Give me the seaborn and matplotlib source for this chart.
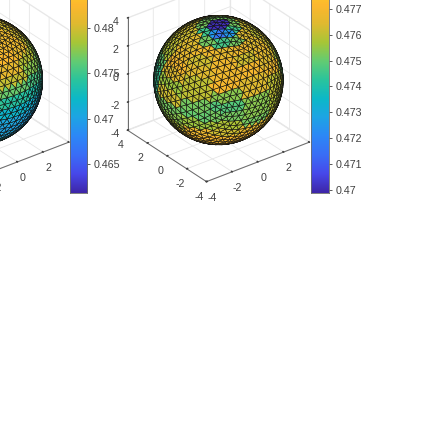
import numpy as np
import matplotlib
matplotlib.use('Agg')
import matplotlib.pyplot as plt
import seaborn as sns
from mpl_toolkits.mplot3d.art3d import Poly3DCollection

# band tables: one row per latitude, one column per longitude
lat_bins = [85, 75, 65, 55, 45, 35, 25, 15, 5, -5, -15, -25, -35, -45, -55, -70]
lon_bins = [-210, -180, -150, -120, -90, -60, -30]

mid_values = [
    [.4701, .4701, .4701, .4701, .4701, .4701, .4701],
    [.4752, .4745, .4725, .4716, .4725, .4745, .4752],
    [.4762, .4764, .4752, .4746, .4752, .4764, .4762],
    [.4762, .4764, .4768, .4766, .4768, .4764, .4760],
    [.4760, .4766, .4762, .4768, .4762, .4766, .4762],
    [.4758, .4770, .4764, .4768, .4770, .4764, .4760],
    [.4750, .4764, .4760, .4770, .4764, .4768, .4756],
    [.4744, .4756, .4760, .4754, .4764, .4760, .4752],
    [.4744, .4762, .4752, .4748, .4754, .4760, .4750],
    [.4746, .4752, .4750, .4752, .4754, .4758, .4756],
    [.4754, .4754, .4756, .4758, .4752, .4760, .4760],
    [.4760, .4758, .4768, .4762, .4766, .4762, .4762],
    [.4762, .4764, .4770, .4770, .4770, .4766, .4764],
    [.4765, .4768, .4770, .4770, .4770, .4768, .4766],
    [.4768, .4770, .4770, .4770, .4770, .4770, .4768],
    [.4770, .4770, .4770, .4770, .4770, .4770, .4770],
]

left_values = [
    [.4810, .4810, .4810, .4810, .4810, .4805, .4800],
    [.4815, .4815, .4815, .4815, .4815, .4810, .4800],
    [.4815, .4815, .4815, .4820, .4815, .4815, .4800],
    [.4815, .4815, .4820, .4820, .4820, .4815, .4800],
    [.4815, .4815, .4820, .4820, .4825, .4810, .4795],
    [.4810, .4815, .4815, .4820, .4810, .4790, .4780],
    [.4790, .4800, .4810, .4800, .4795, .4775, .4770],
    [.4770, .4780, .4770, .4770, .4765, .4755, .4755],
    [.4750, .4745, .4745, .4745, .4740, .4735, .4740],
    [.4730, .4725, .4720, .4720, .4720, .4715, .4720],
    [.4715, .4710, .4710, .4705, .4705, .4705, .4710],
    [.4705, .4705, .4700, .4700, .4700, .4705, .4715],
    [.4710, .4705, .4705, .4705, .4705, .4715, .4735],
    [.4730, .4720, .4720, .4720, .4730, .4750, .4770],
    [.4760, .4750, .4760, .4770, .4775, .4785, .4790],
    [.4790, .4790, .4790, .4790, .4795, .4795, .4795],
]

parula_colors = ['#3e26a8', '#4748ea', '#3a6df6', '#2d87f7', '#1ea4e5', '#0cb8c8',
                 '#2ac49d', '#62cc73', '#a7c637', '#e0ba30', '#fdb82e', '#fbd424', '#f9fb15']

axis_ticks = [-4, -2, 0, 2, 4]
mid_cbar_ticks = [0.47, 0.471, 0.472, 0.473, 0.474, 0.475, 0.476, 0.477]
left_cbar_ticks = [0.465, 0.47, 0.475, 0.48]
mid_cbar_labels = ['0.47', '0.471', '0.472', '0.473', '0.474', '0.475', '0.476', '0.477']
left_cbar_labels = ['0.465', '0.47', '0.475', '0.48']

sns.set_theme(style='white')
plt.rcParams['font.family'] = ['Liberation Sans', 'DejaVu Sans']
plt.rcParams['axes.unicode_minus'] = False
parula = sns.blend_palette(parula_colors, as_cmap=True)
TEXT = '#404040'


def build_mesh(n=11):
    # icosahedron with each face split n times, pushed onto the unit sphere
    t = (1 + 5 ** 0.5) / 2
    v = np.array([[-1, t, 0], [1, t, 0], [-1, -t, 0], [1, -t, 0], [0, -1, t], [0, 1, t],
                  [0, -1, -t], [0, 1, -t], [t, 0, -1], [t, 0, 1], [-t, 0, -1], [-t, 0, 1]], float)
    f = [(0, 11, 5), (0, 5, 1), (0, 1, 7), (0, 7, 10), (0, 10, 11), (1, 5, 9), (5, 11, 4),
         (11, 10, 2), (10, 7, 6), (7, 1, 8), (3, 9, 4), (3, 4, 2), (3, 2, 6), (3, 6, 8),
         (3, 8, 9), (4, 9, 5), (2, 4, 11), (6, 2, 10), (8, 6, 7), (9, 8, 1)]
    tris = []
    for a, b, c in f:
        A, B, C = v[a], v[b], v[c]
        pt = lambda i, j: A + (B - A) * i / n + (C - A) * j / n
        for i in range(n):
            for j in range(n - i):
                tris.append([pt(i, j), pt(i + 1, j), pt(i, j + 1)])
                if i + j < n - 1:
                    tris.append([pt(i + 1, j), pt(i + 1, j + 1), pt(i, j + 1)])
    tris = np.array(tris)
    return tris / np.linalg.norm(tris, axis=2, keepdims=True)


def facet_values(tris, table):
    table = np.array(table)
    mid = tris.mean(axis=1)
    mid = mid / np.linalg.norm(mid, axis=1, keepdims=True)
    lat = np.degrees(np.arcsin(mid[:, 2]))
    lon = np.degrees(np.arctan2(mid[:, 1], mid[:, 0]))
    lon = np.where(lon > 60, lon - 360, lon)
    i = np.abs(lat[:, None] - np.array(lat_bins)).argmin(axis=1)
    j = np.abs(lon[:, None] - np.array(lon_bins)).argmin(axis=1)
    return table[i, j]


def px_rect(cx, cy, size):
    return [(cx - size / 2) / 423, 1 - (cy + size / 2) / 423, size / 423, size / 423]


def draw_sphere(fig, center, table, vmin, vmax):
    ax = fig.add_axes(px_rect(center[0], center[1], 218), projection='3d', proj_type='ortho')
    ax.patch.set_alpha(0)
    ax.view_init(elev=30, azim=-127.5)
    ax.set_box_aspect((1, 1, 1), zoom=1.0)
    ax.set_xlim(-4, 4, view_margin=0)
    ax.set_ylim(-4, 4, view_margin=0)
    ax.set_zlim(-4, 4, view_margin=0)
    tris = build_mesh()
    vals = facet_values(tris, table)
    colors = parula((vals - vmin) / (vmax - vmin))
    ax.add_collection3d(Poly3DCollection(tris * 4, facecolors=colors, edgecolors='#111111',
                                         linewidths=0.42, shade=False))
    for axis in (ax.xaxis, ax.yaxis, ax.zaxis):
        axis.set_ticks(axis_ticks)
        axis.pane.set_facecolor('white')
        axis.pane.set_edgecolor('#e4e4e4')
        axis.line.set_color('#6a6a6a')
        axis.line.set_linewidth(0.7)
        axis._axinfo['grid'].update(color='#e6e6e6', linewidth=0.6)
        axis._axinfo['tick'].update(inward_factor=0.0, outward_factor=0.1)
        axis.set_tick_params(labelsize=7.7, colors=TEXT, pad=-2.5)
    return ax


def add_cbar(fig, x0, x1, y_low, y_high, vmin, vmax, ticks, labels):
    cax = fig.add_axes([x0 / 423, 1 - y_low / 423, (x1 - x0) / 423, (y_low - y_high) / 423])
    gradient = np.linspace(vmin, vmax, 256).reshape(-1, 1)
    cax.imshow(gradient, origin='lower', aspect='auto', cmap=parula, extent=[0, 1, vmin, vmax],
               vmin=vmin, vmax=vmax)
    cax.set_xticks([])
    cax.yaxis.tick_right()
    cax.set_yticks(ticks)
    cax.set_yticklabels(labels)
    cax.tick_params(axis='y', length=2, width=0.6, color=TEXT, labelsize=7.7, labelcolor=TEXT, pad=3)
    for s in cax.spines.values():
        s.set_color('#6a6a6a')
        s.set_linewidth(0.6)


fig = plt.figure(figsize=(4.23, 4.23), dpi=100, facecolor='white')

draw_sphere(fig, (-25, 83), left_values, 0.4618, 0.4867)
draw_sphere(fig, (215.5, 83), mid_values, 0.4699, 0.4786)

add_cbar(fig, 70, 87, 193, -33, 0.4618, 0.4867, left_cbar_ticks, left_cbar_labels)
add_cbar(fig, 311, 329, 193, -33, 0.4699, 0.4786, mid_cbar_ticks, mid_cbar_labels)

fig.savefig('out.png', dpi=100)
